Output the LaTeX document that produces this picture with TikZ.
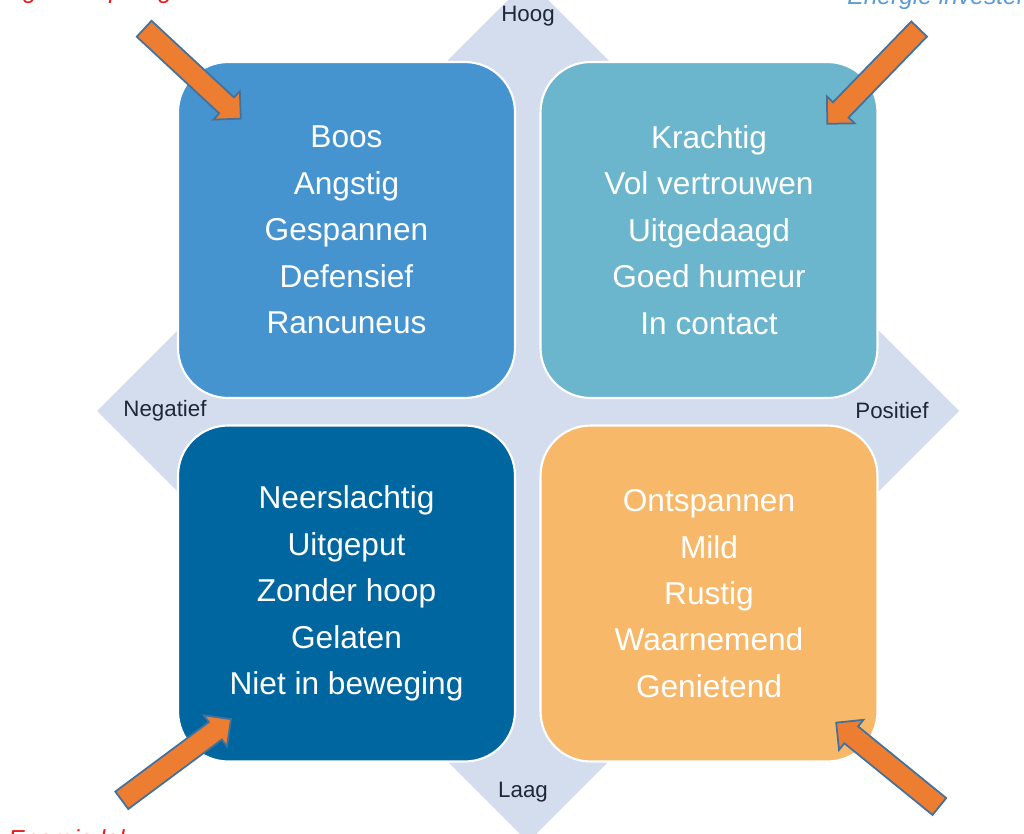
\documentclass[tikz,border=0pt]{standalone}
\usepackage{fontspec}
\setmainfont{Liberation Sans}
\usetikzlibrary{shapes.arrows}

\definecolor{axisfill}{RGB}{211,221,238}
\definecolor{quadTL}{RGB}{69,148,208}
\definecolor{quadTR}{RGB}{108,182,205}
\definecolor{quadBL}{RGB}{0,102,160}
\definecolor{quadBR}{RGB}{248,184,106}
\definecolor{arrowfill}{RGB}{237,125,49}
\definecolor{arrowline}{RGB}{65,113,156}
\definecolor{labelred}{RGB}{228,28,28}
\definecolor{labelblue}{RGB}{91,155,213}
\definecolor{axistext}{RGB}{30,38,55}

\begin{document}
\begin{tikzpicture}[x=0.02cm, y=-0.02cm,
    quad/.style={rounded corners=1cm, draw=white, line width=1.2pt, minimum width=6.74cm, minimum height=6.72cm,
                 align=center, text=white, font=\fontsize{18}{26.4}\selectfont},
    axislabel/.style={text=axistext, font=\fontsize{12.7}{15}\selectfont},
    blockarrow/.style={single arrow, fill=arrowfill, draw=arrowline, line width=1pt, inner xsep=0pt, inner ysep=0.2cm,
                       single arrow head extend=0.17cm},
    cornerlabel/.style={font=\fontsize{14}{16}\selectfont\itshape, anchor=base west, inner sep=0pt}]
    \useasboundingbox (0,0) rectangle (1024,834);
    \clip (0,0) rectangle (1024,834);

    % Axis diamond
    \fill[axisfill] (528,-20) -- (959,411) -- (528,842) -- (97,411) -- cycle;
    \node[axislabel] (hoog) at (528,16) {Hoog};
    \node[axislabel] (laag) at (523,792) {Laag};
    \node[axislabel] (neg) at (165,411) {Negatief};
    \node[axislabel] (pos) at (892,411) {Positief};

    % Quadrants
    \node[quad, fill=quadTL] (tl) at (346.5,230) {Boos\\Angstig\\Gespannen\\Defensief\\Rancuneus};
    \node[quad, fill=quadTR] (tr) at (709,230) {Krachtig\\Vol vertrouwen\\Uitgedaagd\\Goed humeur\\In contact};
    \node[quad, fill=quadBL] (bl) at (346.5,593.5) {Neerslachtig\\Uitgeput\\Zonder hoop\\Gelaten\\Niet in beweging};
    \node[quad, fill=quadBR] (br) at (709,593.5) {Ontspannen\\Mild\\Rustig\\Waarnemend\\Genietend};

    % Corner labels (cut by the page edge)
    \node[cornerlabel, text=labelred] (spill) at (-29,-1) {Energie verspilling};
    \node[cornerlabel, text=labelblue] (invest) at (847,5) {Energie investeren};
    \node[cornerlabel, text=labelred] (lek) at (8,847) {Energie lek};

    % Arrows
    \node[blockarrow, rotate=-42.9, minimum height=2.64cm] (arrTL) at (188.5,70) {};
    \node[blockarrow, rotate=-134.1, minimum height=2.64cm] (arrTR) at (877,72.5) {};
    \node[blockarrow, rotate=36.6, minimum height=2.72cm] (arrBL) at (172,763) {};
    \node[blockarrow, rotate=140.9, minimum height=2.66cm] (arrBR) at (892,768) {};
\end{tikzpicture}
\end{document}
